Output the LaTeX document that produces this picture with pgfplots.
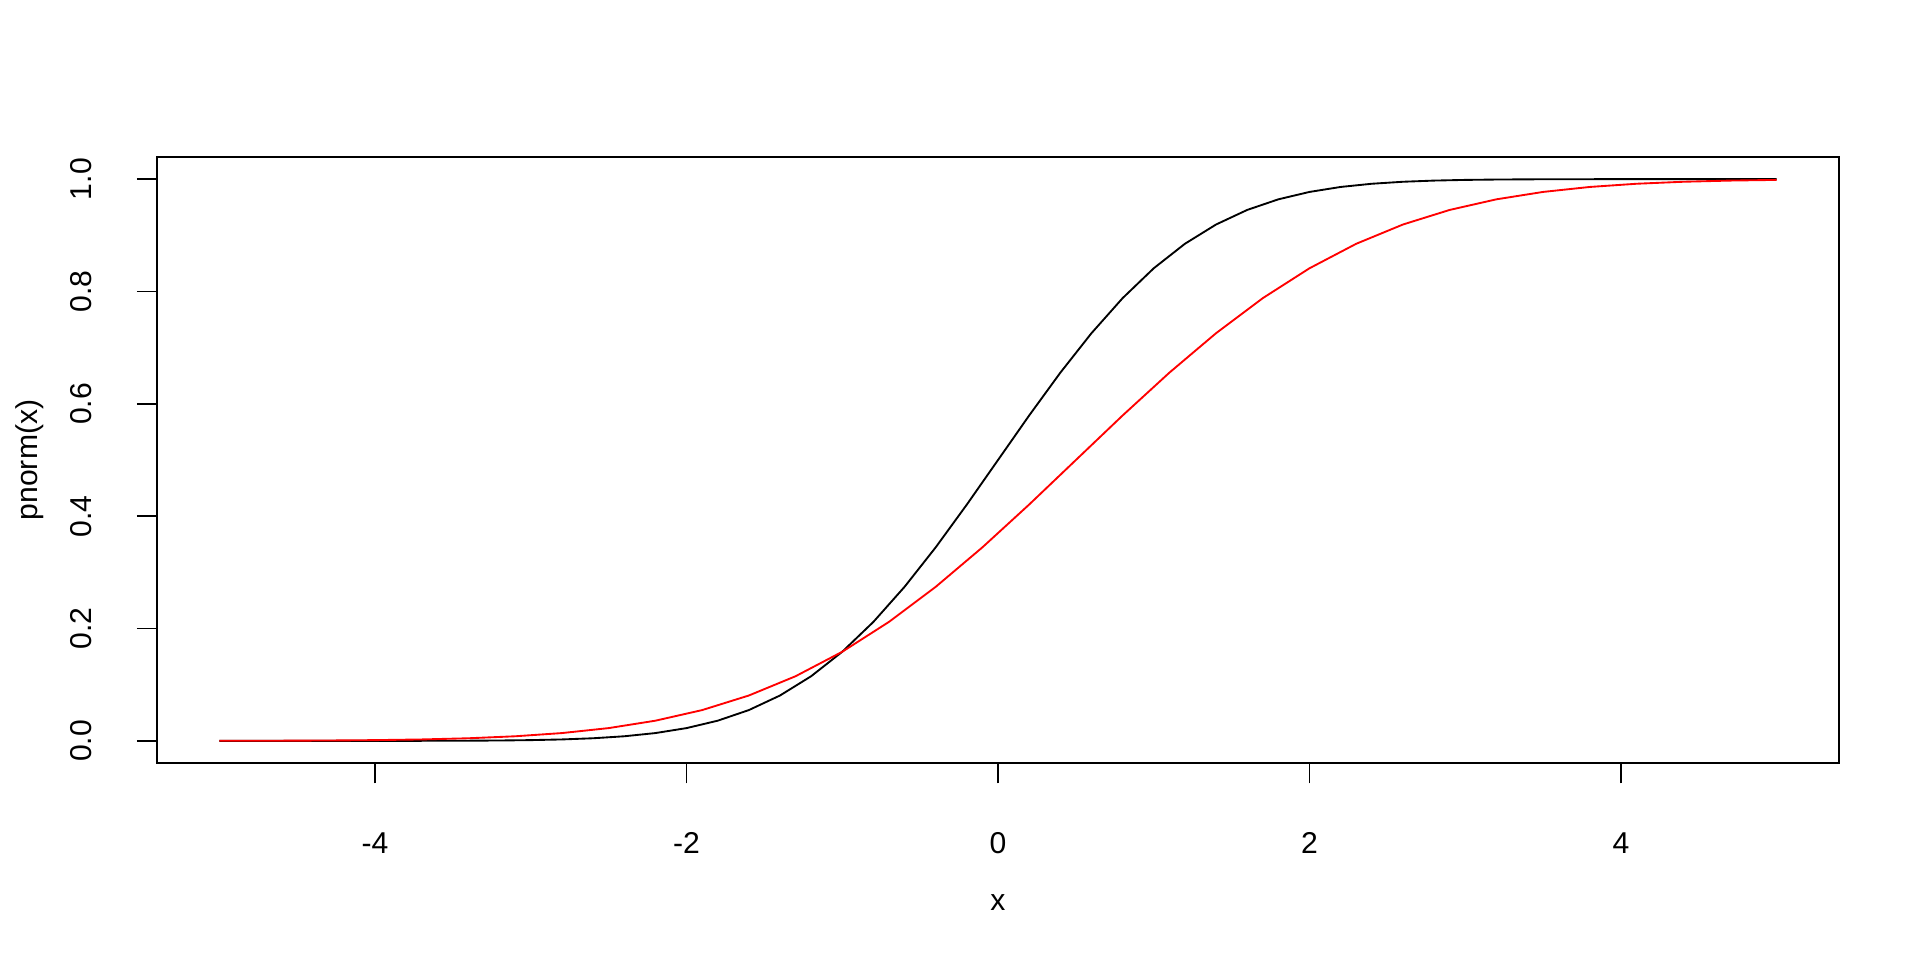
\documentclass[border=0pt]{standalone}
\usepackage{pgfplots}
\pgfplotsset{compat=1.18}
\usepackage{fontspec}
\setmainfont{Liberation Sans}
\begin{document}
\begin{tikzpicture}
\path[use as bounding box] (-58.875pt,-73.75pt) rectangle ++(720pt,360pt);
\begin{axis}[
  at={(0,0)}, anchor=south west,
  scale only axis, width=630.75pt, height=227.5pt,
  xmin=-5.4, xmax=5.4, ymin=-0.04, ymax=1.04,
  axis line style={line width=0.7pt},
  tick style={black, line width=0.7pt},
  major tick style={black, line width=0.7pt},
  tick align=outside, major tick length=7.5pt,
  xtick pos=left, ytick pos=left,
  xtick={-4,-2,0,2,4}, xticklabels={-4,-2,0,2,4},
  ytick={0,0.2,0.4,0.6,0.8,1.0}, yticklabels={0.0,0.2,0.4,0.6,0.8,1.0},
  tick label style={font=\fontsize{11.3}{13}\selectfont},
  label style={font=\fontsize{11.3}{13}\selectfont},
  xticklabel style={anchor=base, inner sep=0pt, yshift=-26.25pt},
  yticklabel style={xshift=-16.9pt, rotate=90, anchor=south, inner sep=0pt},
  xlabel={x}, ylabel={pnorm(x)},
  xlabel style={at={(axis description cs:0.5,-0.2287)}, anchor=center},
  ylabel style={at={(axis description cs:-0.0755,0.5)}, anchor=center},
]
\addplot[black, line width=0.7pt] coordinates {
(-5,0.0000003) (-4.8,0.0000008) (-4.6,0.0000021) (-4.4,0.0000054) (-4.2,0.0000133)
(-4.0,0.0000317) (-3.8,0.0000723) (-3.6,0.000159) (-3.4,0.000337) (-3.2,0.000687)
(-3.0,0.00135) (-2.8,0.00256) (-2.6,0.00466) (-2.4,0.00820) (-2.2,0.01390)
(-2.0,0.02275) (-1.8,0.03593) (-1.6,0.05480) (-1.4,0.08076) (-1.2,0.11507)
(-1.0,0.15866) (-0.8,0.21186) (-0.6,0.27425) (-0.4,0.34458) (-0.2,0.42074)
(0,0.5) (0.2,0.57926) (0.4,0.65542) (0.6,0.72575) (0.8,0.78814)
(1.0,0.84134) (1.2,0.88493) (1.4,0.91924) (1.6,0.94520) (1.8,0.96407)
(2.0,0.97725) (2.2,0.98610) (2.4,0.99180) (2.6,0.99534) (2.8,0.99744)
(3.0,0.99865) (3.2,0.99931) (3.4,0.99966) (3.6,0.99984) (3.8,0.99993)
(4.0,0.99997) (4.2,0.99999) (4.4,0.99999) (4.6,1.0) (4.8,1.0) (5.0,1.0)
};
\addplot[red, line width=0.7pt] coordinates {
(-5.0,0.000123) (-4.9,0.000159) (-4.6,0.000337) (-4.3,0.000687) (-4.0,0.00135)
(-3.7,0.00256) (-3.4,0.00466) (-3.1,0.00820) (-2.8,0.01390) (-2.5,0.02275)
(-2.2,0.03593) (-1.9,0.05480) (-1.6,0.08076) (-1.3,0.11507) (-1.0,0.15866)
(-0.7,0.21186) (-0.4,0.27425) (-0.1,0.34458) (0.2,0.42074) (0.5,0.5)
(0.8,0.57926) (1.1,0.65542) (1.4,0.72575) (1.7,0.78814) (2.0,0.84134)
(2.3,0.88493) (2.6,0.91924) (2.9,0.94520) (3.2,0.96407) (3.5,0.97725)
(3.8,0.98610) (4.1,0.99180) (4.4,0.99534) (4.7,0.99744) (5.0,0.99865)
};
\end{axis}
\end{tikzpicture}
\end{document}
